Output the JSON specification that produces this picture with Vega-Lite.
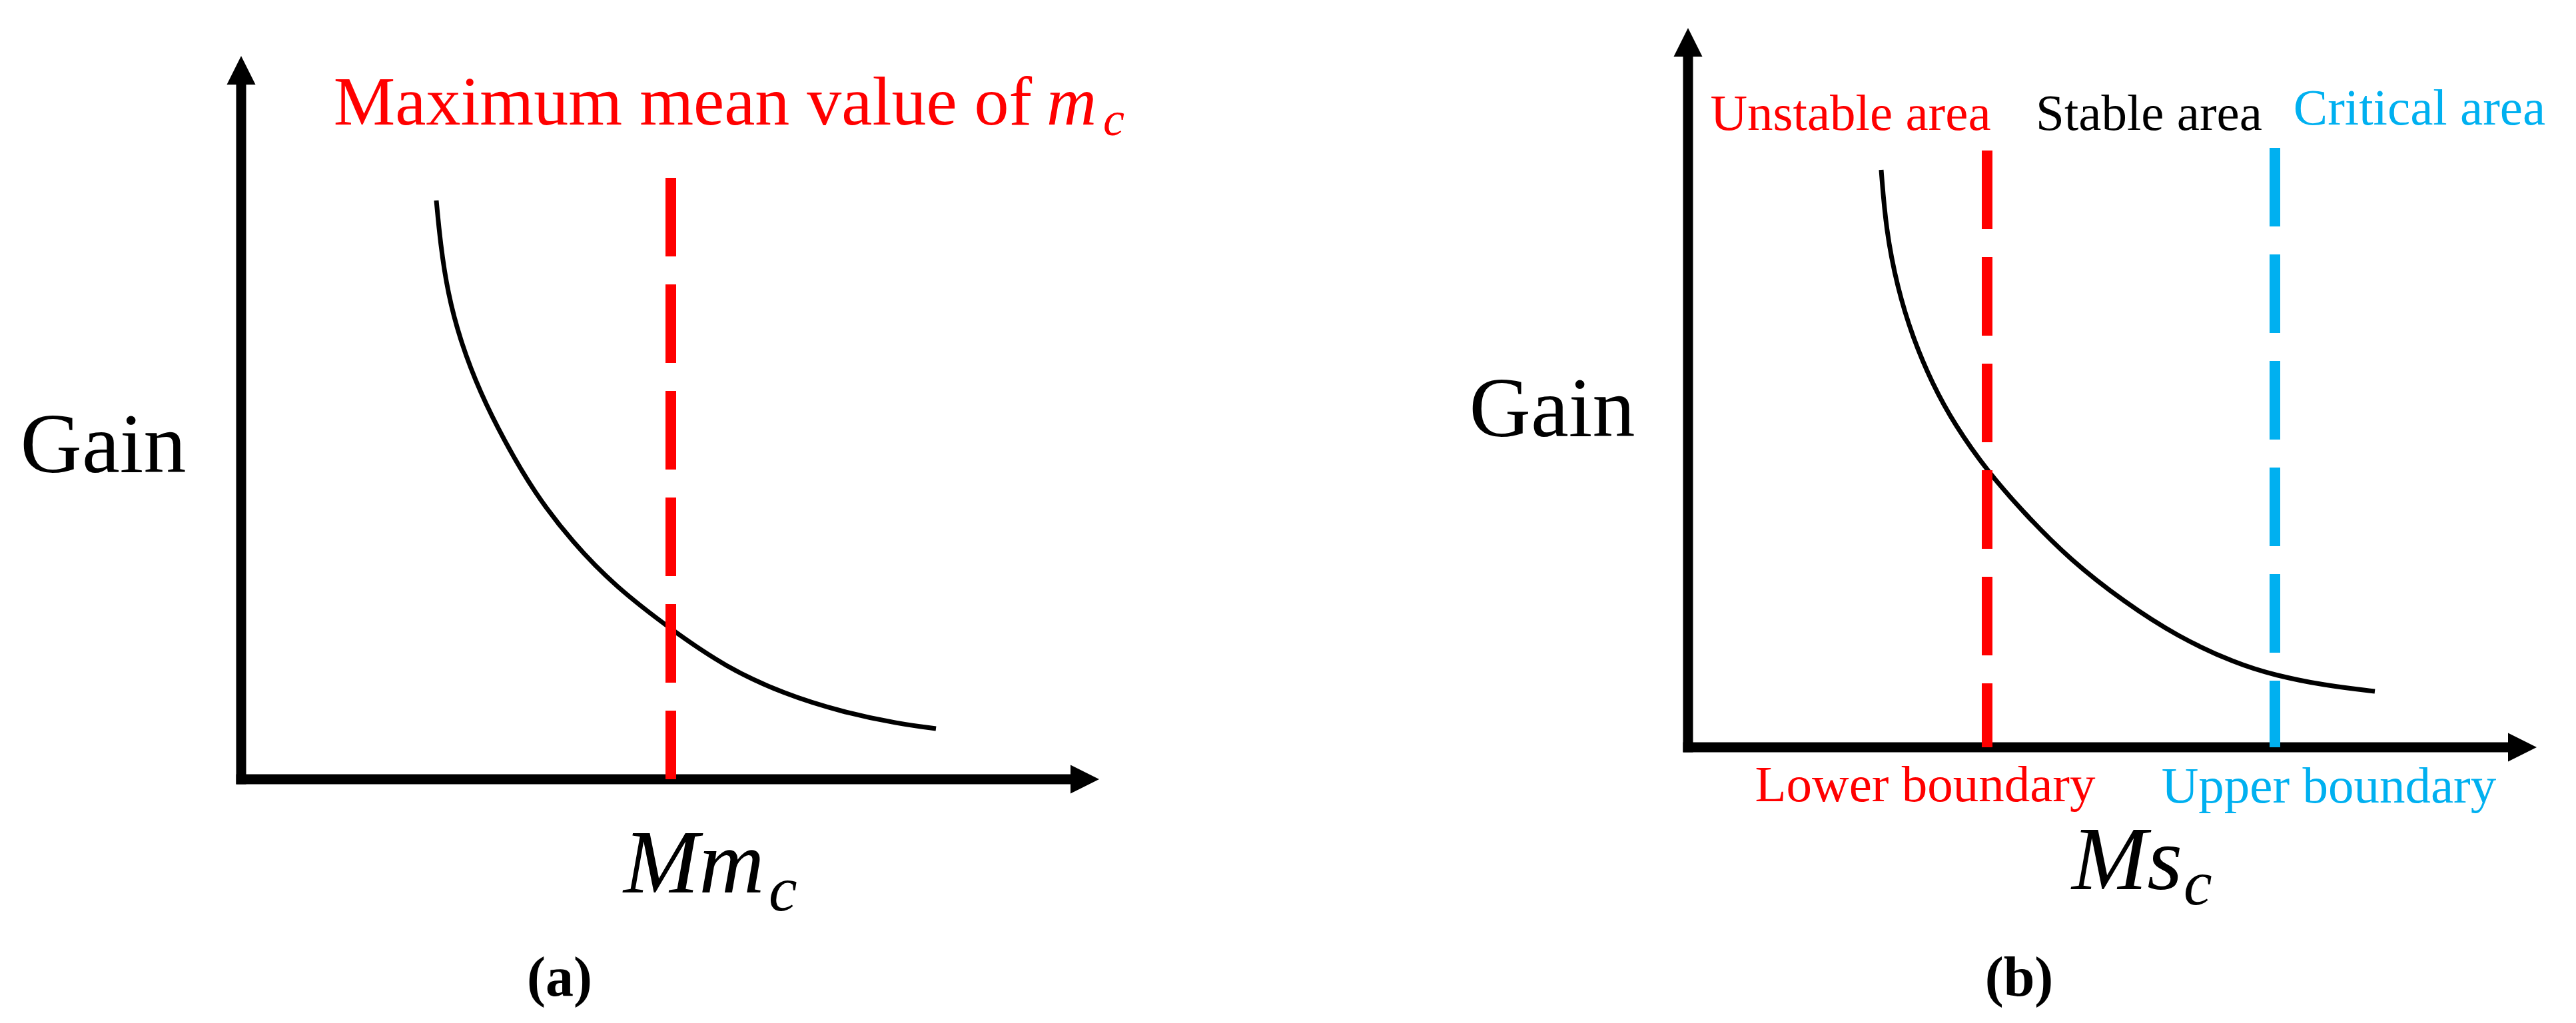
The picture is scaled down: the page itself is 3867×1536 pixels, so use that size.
{
  "$schema": "https://vega.github.io/schema/vega-lite/v6.json",
  "padding": 0,
  "spacing": 0,
  "bounds": "flush",
  "background": "white",
  "config": {"view": {"stroke": null}, "font": "Liberation Serif"},
  "hconcat": [
    {
      "width": 1933,
      "height": 1536,
      "encoding": {
        "x": {"field": "x", "type": "quantitative", "scale": {"domain": [-3.62, 15.71], "nice": false, "zero": false}, "axis": null},
        "y": {"field": "y", "type": "quantitative", "scale": {"domain": [-3.66, 11.70], "nice": false, "zero": false}, "axis": null}
      },
      "layer": [
        {
          "data": {"values": [{"x": 0, "y": 0, "x2": 12.5, "y2": 0}, {"x": 0, "y": 0, "x2": 0, "y2": 10.6}]},
          "mark": {"type": "rule", "color": "black", "strokeWidth": 15, "strokeCap": "square"},
          "encoding": {"x2": {"field": "x2"}, "y2": {"field": "y2"}}
        },
        {
          "data": {"values": [{"x": 12.665, "y": 0, "dir": "right"}, {"x": 0, "y": 10.645, "dir": "up"}]},
          "mark": {"type": "point", "filled": true, "opacity": 1, "size": 1850, "strokeWidth": 0},
          "encoding": {
            "shape": {"field": "dir", "type": "nominal", "scale": {"domain": ["right", "up"], "range": ["M1,0L-1,-1L-1,1Z", "M0,-1L1,1L-1,1Z"]}, "legend": null},
            "color": {"value": "black"}
          }
        },
        {
          "data": {"values": [
            {"x": 2.93, "y": 8.69}, {"x": 2.99, "y": 8.05}, {"x": 3.10, "y": 7.30}, {"x": 3.30, "y": 6.55},
            {"x": 3.59, "y": 5.80}, {"x": 3.94, "y": 5.10}, {"x": 4.40, "y": 4.30}, {"x": 4.98, "y": 3.55},
            {"x": 5.61, "y": 2.90}, {"x": 6.45, "y": 2.25}, {"x": 7.28, "y": 1.68}, {"x": 8.15, "y": 1.28},
            {"x": 9.02, "y": 1.01}, {"x": 9.88, "y": 0.83}, {"x": 10.43, "y": 0.76}
          ]},
          "mark": {"type": "line", "color": "black", "strokeWidth": 7, "interpolate": "basis"}
        },
        {
          "data": {"values": [{"x": 6.45, "y": 9.03, "y2": 0, "group": "maximum"}]},
          "mark": {"type": "rule", "strokeWidth": 16, "strokeDash": [118, 42]},
          "encoding": {
            "y2": {"field": "y2"},
            "color": {"field": "group", "type": "nominal", "scale": {"domain": ["maximum", "unstable", "stable", "critical"], "range": ["#FF0000", "#FF0000", "#000000", "#00B0F0"]}, "legend": null}
          }
        },
        {
          "data": {"values": [{"x": 6.63, "y": 9.83, "label": "Maximum mean value of"}]},
          "mark": {"type": "text", "fontSize": 104, "align": "center", "baseline": "alphabetic", "color": "#FF0000"},
          "encoding": {"text": {"field": "label"}}
        },
        {
          "data": {"values": [{"x": 12.09, "y": 9.83, "label": "m"}]},
          "mark": {"type": "text", "fontSize": 104, "fontStyle": "italic", "align": "left", "baseline": "alphabetic", "color": "#FF0000"},
          "encoding": {"text": {"field": "label"}}
        },
        {
          "data": {"values": [{"x": 12.94, "y": 9.67, "label": "c"}]},
          "mark": {"type": "text", "fontSize": 72, "fontStyle": "italic", "align": "left", "baseline": "alphabetic", "color": "#FF0000"},
          "encoding": {"text": {"field": "label"}}
        },
        {
          "data": {"values": [{"x": -2.07, "y": 4.61, "label": "Gain"}]},
          "mark": {"type": "text", "fontSize": 128, "align": "center", "baseline": "alphabetic", "color": "black"},
          "encoding": {"text": {"field": "label"}}
        },
        {
          "data": {"values": [{"x": 5.74, "y": -1.70, "label": "Mm"}]},
          "mark": {"type": "text", "fontSize": 136, "fontStyle": "italic", "align": "left", "baseline": "alphabetic", "color": "black"},
          "encoding": {"text": {"field": "label"}}
        },
        {
          "data": {"values": [{"x": 7.92, "y": -1.97, "label": "c"}]},
          "mark": {"type": "text", "fontSize": 96, "fontStyle": "italic", "align": "left", "baseline": "alphabetic", "color": "black"},
          "encoding": {"text": {"field": "label"}}
        },
        {
          "data": {"values": [{"x": 4.78, "y": -3.25, "label": "(a)"}]},
          "mark": {"type": "text", "fontSize": 84, "fontWeight": "bold", "align": "center", "baseline": "alphabetic", "color": "black"},
          "encoding": {"text": {"field": "label"}}
        }
      ]
    },
    {
      "width": 1934,
      "height": 1536,
      "encoding": {
        "x": {"field": "x", "type": "quantitative", "scale": {"domain": [-6.01, 13.33], "nice": false, "zero": false}, "axis": null},
        "y": {"field": "y", "type": "quantitative", "scale": {"domain": [-4.14, 11.22], "nice": false, "zero": false}, "axis": null}
      },
      "layer": [
        {
          "data": {"values": [{"x": 0, "y": 0, "x2": 12.4, "y2": 0}, {"x": 0, "y": 0, "x2": 0, "y2": 10.5}]},
          "mark": {"type": "rule", "color": "black", "strokeWidth": 15, "strokeCap": "square"},
          "encoding": {"x2": {"field": "x2"}, "y2": {"field": "y2"}}
        },
        {
          "data": {"values": [{"x": 12.525, "y": 0, "dir": "right"}, {"x": 0, "y": 10.585, "dir": "up"}]},
          "mark": {"type": "point", "filled": true, "opacity": 1, "size": 1850, "strokeWidth": 0},
          "encoding": {
            "shape": {"field": "dir", "type": "nominal", "scale": {"domain": ["right", "up"], "range": ["M1,0L-1,-1L-1,1Z", "M0,-1L1,1L-1,1Z"]}, "legend": null},
            "color": {"value": "black"}
          }
        },
        {
          "data": {"values": [
            {"x": 2.90, "y": 8.67}, {"x": 2.97, "y": 7.78}, {"x": 3.14, "y": 6.91}, {"x": 3.37, "y": 6.16},
            {"x": 3.66, "y": 5.47}, {"x": 4.01, "y": 4.83}, {"x": 4.49, "y": 4.15}, {"x": 5.05, "y": 3.51},
            {"x": 5.74, "y": 2.81}, {"x": 6.55, "y": 2.18}, {"x": 7.35, "y": 1.66}, {"x": 8.22, "y": 1.26},
            {"x": 8.81, "y": 1.08}, {"x": 9.55, "y": 0.93}, {"x": 10.31, "y": 0.84}
          ]},
          "mark": {"type": "line", "color": "black", "strokeWidth": 7, "interpolate": "basis"}
        },
        {
          "data": {"values": [{"x": 4.49, "y": 8.96, "y2": 0, "group": "unstable"}, {"x": 8.81, "y": 9.00, "y2": 0, "group": "critical"}]},
          "mark": {"type": "rule", "strokeWidth": 16, "strokeDash": [118, 42]},
          "encoding": {
            "y2": {"field": "y2"},
            "color": {"field": "group", "type": "nominal", "scale": {"domain": ["maximum", "unstable", "stable", "critical"], "range": ["#FF0000", "#FF0000", "#000000", "#00B0F0"]}, "legend": null}
          }
        },
        {
          "data": {"values": [
            {"x": 2.44, "y": 9.27, "label": "Unstable area", "group": "unstable"},
            {"x": 6.92, "y": 9.27, "label": "Stable area", "group": "stable"},
            {"x": 10.98, "y": 9.35, "label": "Critical area", "group": "critical"},
            {"x": 3.56, "y": -0.81, "label": "Lower boundary", "group": "unstable"},
            {"x": 9.62, "y": -0.83, "label": "Upper boundary", "group": "critical"}
          ]},
          "mark": {"type": "text", "fontSize": 77, "align": "center", "baseline": "alphabetic"},
          "encoding": {
            "text": {"field": "label"},
            "color": {"field": "group", "type": "nominal", "scale": {"domain": ["maximum", "unstable", "stable", "critical"], "range": ["#FF0000", "#FF0000", "#000000", "#00B0F0"]}, "legend": null}
          }
        },
        {
          "data": {"values": [{"x": -2.04, "y": 4.67, "label": "Gain"}]},
          "mark": {"type": "text", "fontSize": 128, "align": "center", "baseline": "alphabetic", "color": "black"},
          "encoding": {"text": {"field": "label"}}
        },
        {
          "data": {"values": [{"x": 5.76, "y": -2.13, "label": "Ms"}]},
          "mark": {"type": "text", "fontSize": 136, "fontStyle": "italic", "align": "left", "baseline": "alphabetic", "color": "black"},
          "encoding": {"text": {"field": "label"}}
        },
        {
          "data": {"values": [{"x": 7.44, "y": -2.36, "label": "c"}]},
          "mark": {"type": "text", "fontSize": 96, "fontStyle": "italic", "align": "left", "baseline": "alphabetic", "color": "black"},
          "encoding": {"text": {"field": "label"}}
        },
        {
          "data": {"values": [{"x": 4.97, "y": -3.73, "label": "(b)"}]},
          "mark": {"type": "text", "fontSize": 84, "fontWeight": "bold", "align": "center", "baseline": "alphabetic", "color": "black"},
          "encoding": {"text": {"field": "label"}}
        }
      ]
    }
  ]
}
